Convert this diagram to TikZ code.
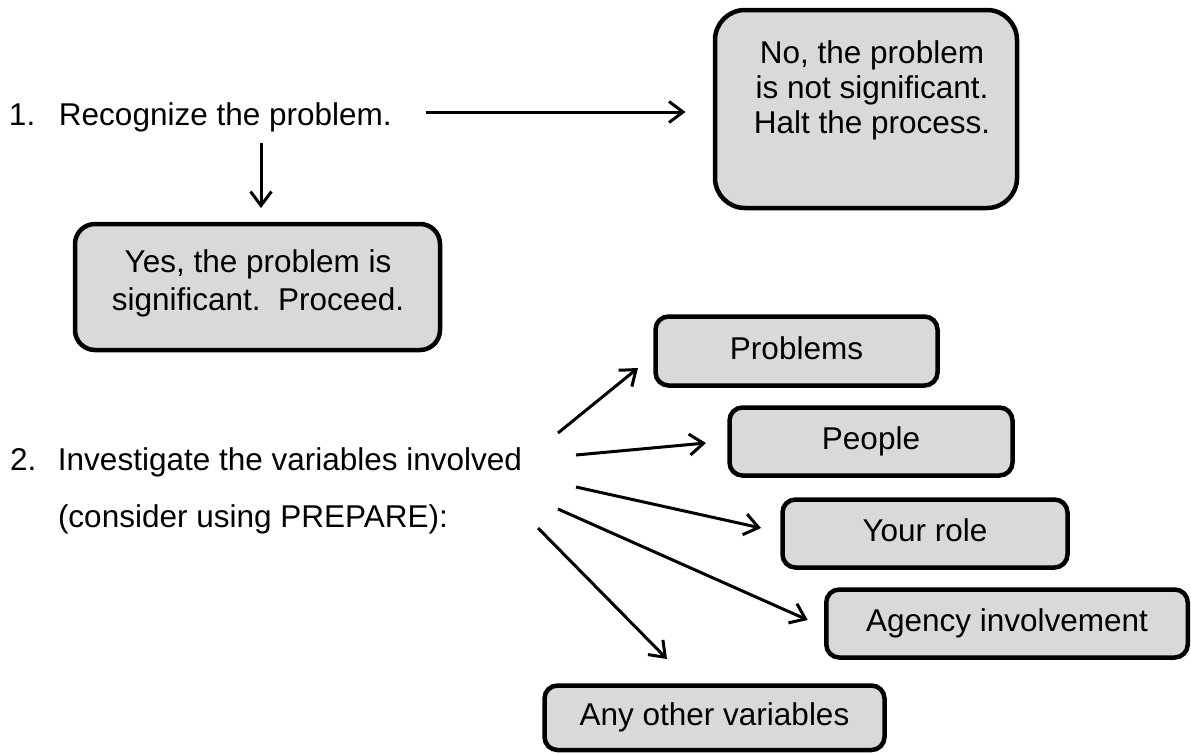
\documentclass[tikz,border=0pt]{standalone}
\usepackage{fontspec}
\setmainfont{Liberation Sans}
\usetikzlibrary{arrows.meta,calc}
\definecolor{boxgray}{RGB}{217,217,217}
\tikzset{
  box/.style={draw=black, line width=4.5pt, fill=boxgray, rounded corners=13pt, inner sep=0pt, outer sep=0pt},
  sbox/.style={box, font=\fontsize{31.5}{38}\selectfont, text height=22.5pt, text depth=6.5pt},
  txt/.style={inner sep=0pt, outer sep=0pt, font=\fontsize{31.5}{38}\selectfont, align=center},
  arr/.style={line width=3pt, -{Straight Barb[length=14pt,width=21pt]}},
}
\begin{document}
\begin{tikzpicture}[x=1pt,y=-1pt]
\useasboundingbox (0,0) rectangle (1191,753);
% item 1
\node[txt, anchor=base west] (rec) at (9,125) {\makebox[50pt][l]{1.}Recognize the problem.};
\node[box, rounded corners=30pt, minimum width=302pt, minimum height=198pt] (no) at (866,109) {};
\node[txt, font=\fontsize{31.5}{35}\selectfont] (notext) at (872,90) {No, the problem\\is not significant.\\Halt the process.};
\node[box, rounded corners=20pt, minimum width=365pt, minimum height=126pt] (yes) at (257.5,287) {};
\node[txt] (yestext) at (258,283) {Yes, the problem is\\significant.\ \ Proceed.};
\coordinate (s0) at (261,143);
\coordinate (s1) at (426,112);
\draw[arr, shorten >=16pt] (s0) -- (yes.north -| s0);
\draw[arr, shorten >=29.5pt] (s1) -- (no.west |- s1);
% item 2
\node[txt, anchor=base west] (inv) at (10,470) {\makebox[48pt][l]{2.}Investigate the variables involved};
\node[txt, anchor=base west] (cons) at (58,527) {(consider using PREPARE):};
\node[sbox, minimum width=282pt, minimum height=69pt] (prob) at (796.5,351) {Problems};
\node[sbox, minimum width=283pt, minimum height=68pt] (peop) at (871,441.5) {People};
\node[sbox, minimum width=285pt, minimum height=68pt] (role) at (925,533.5) {Your role};
\node[sbox, minimum width=361.5pt, minimum height=68pt] (agen) at (1007,623.5) {Agency involvement};
\node[sbox, minimum width=340pt, minimum height=64.5pt] (other) at (714.5,717.75) {Any other variables};
\coordinate (b1) at (558,433);
\coordinate (b2) at (576,455);
\coordinate (b3) at (576,487);
\coordinate (b4) at (558,509);
\coordinate (b5) at (538,528);
\draw[arr] (b1) -- ($(prob.south west)+(-17.5,-17.5)$);
\draw[arr] (b2) -- ($(peop.west)+(-23.5,1.5)$);
\draw[arr] (b3) -- ($(role.west)+(-21.5,-5.5)$);
\draw[arr] (b4) -- ($(agen.west)+(-18.5,-3.5)$);
\draw[arr] (b5) -- ($(other.north)+(-47.5,-26.5)$);
\end{tikzpicture}
\end{document}
